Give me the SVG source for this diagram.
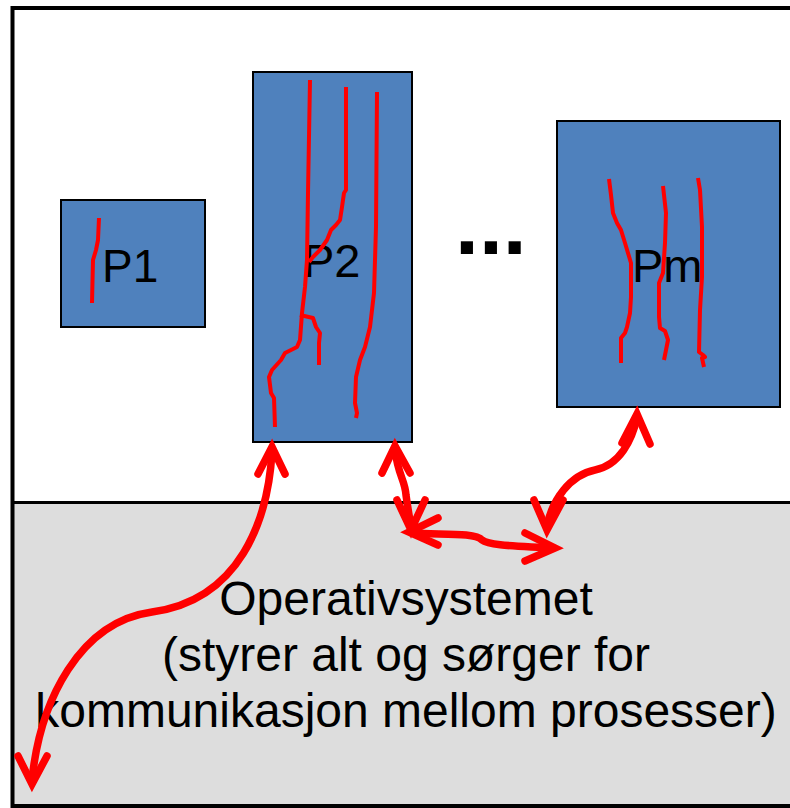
<svg xmlns="http://www.w3.org/2000/svg" width="790" height="808" viewBox="0 0 790 808">
  <style>
    .proc { fill: #4F81BD; stroke: #000; stroke-width: 2; }
    .label { font-family: "Liberation Sans", Arial, sans-serif; fill: #000; }
    .thread { fill: none; stroke: #FF0000; stroke-width: 4; stroke-linejoin: round; stroke-linecap: butt; }
    .link { fill: none; stroke: #FF0000; stroke-width: 7.5; stroke-linecap: round; stroke-linejoin: round; }
    .head { fill: none; stroke: #FF0000; stroke-width: 7.5; stroke-linecap: round; stroke-linejoin: miter; stroke-miterlimit: 10; }
  </style>

  <!-- background -->
  <rect x="0" y="0" width="790" height="808" fill="#FFFFFF"/>

  <!-- operating system area -->
  <g id="os">
    <rect x="12" y="502" width="790" height="304" fill="#DDDDDD"/>
    <line x1="12" y1="502.5" x2="790" y2="502.5" stroke="#000" stroke-width="3"/>
    <text class="label" x="406" y="615" font-size="48" text-anchor="middle">Operativsystemet</text>
    <text class="label" x="406" y="671" font-size="48" text-anchor="middle">(styrer alt og sørger for</text>
    <text class="label" x="406" y="727" font-size="48" text-anchor="middle">kommunikasjon mellom prosesser)</text>
  </g>

  <!-- outer frame -->
  <rect x="12.5" y="8" width="800" height="798" fill="none" stroke="#000" stroke-width="4"/>

  <!-- process P1 -->
  <g id="p1">
    <rect class="proc" x="61" y="200" width="144" height="127"/>
    <text class="label" x="102" y="282" font-size="46">P1</text>
    <polyline class="thread" points="99,218 98,240 96,250 93,260 92,303"/>
  </g>

  <!-- process P2 -->
  <g id="p2">
    <rect class="proc" x="253" y="72" width="159" height="370"/>
    <text class="label" x="303" y="277" font-size="47">P2</text>
    <polyline class="thread" points="310,80 308,193 307,260 305,287 302,313 300,340 297,347 285,353 281,360 272,370 269,377 271,393 274,398 275,427"/>
    <polyline class="thread" points="300,315 313,318 316,327 320,333 319,343 319,365"/>
    <polyline class="thread" points="346,87 346,190 344,193 342,207 340,220 336,225 331,230 327,240 320,250 313,257 309,262"/>
    <polyline class="thread" points="377,92 376,227 374,293 370,327 365,347 360,360 356,377 355,403 357,413 356,418"/>
  </g>

  <!-- ellipsis between processes -->
  <g id="more">
    <text class="label" x="455" y="254" font-size="86" font-weight="bold">...</text>
  </g>

  <!-- process Pm -->
  <g id="pm">
    <rect class="proc" x="557" y="121" width="223" height="286"/>
    <text class="label" x="632" y="282" font-size="47">Pm</text>
    <polyline class="thread" points="609,179 611,195 613,213 617,223 621,230 625,243 631,263 631,297 630,313 627,327 625,333 621,338 621,363"/>
    <polyline class="thread" points="663,186 666,213 665,243 663,273 659,283 659,317 660,328 665,331 668,340 666,350 664,360"/>
    <polyline class="thread" points="698,178 700,190 702,227 702,277 700,310 699,352 703,355 705,357 702,358 704,367"/>
  </g>

  <!-- communication links -->
  <g id="connectors">
    <!-- P2 to OS corner -->
    <path class="link" d="M 272 452 C 268 520, 240 600, 152 612 C 80 622, 40 700, 32 780"/>
    <path class="head" d="M 258 474 L 272 447 L 285 474"/>
    <path class="head" d="M 18 756 L 32 784 L 47 756"/>

    <!-- P2 to OS -->
    <path class="link" d="M 395 450 C 398 475, 405 480, 406 495 C 408 510, 410 520, 411 527"/>
    <path class="head" d="M 382 473 L 395 446 L 410 473"/>
    <path class="head" d="M 397 500 L 411 530 L 425 500"/>

    <!-- inside OS -->
    <path class="link" d="M 412 533 C 440 535, 475 532, 482 540 C 490 546, 520 546, 551 548"/>
    <path class="head" d="M 438 518 L 409 532 L 438 545"/>
    <path class="head" d="M 525 533 L 555 548 L 525 561"/>

    <!-- Pm to OS -->
    <path class="link" d="M 637 418 C 632 440, 620 465, 595 470 C 570 475, 552 500, 547 526"/>
    <path class="head" d="M 622 443 L 637 414 L 650 444"/>
    <path class="head" d="M 534 500 L 547 530 L 563 500"/>
  </g>
</svg>
